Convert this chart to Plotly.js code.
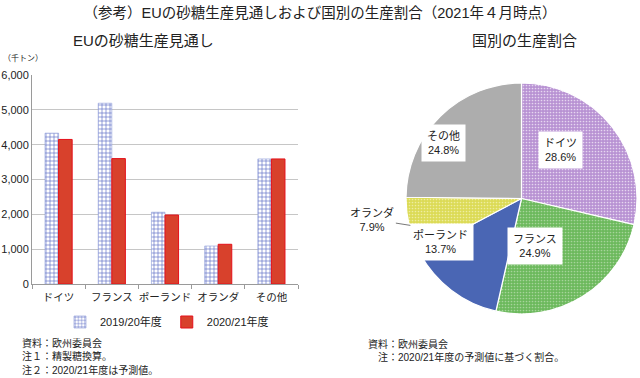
<!DOCTYPE html>
<html>
<head>
<meta charset="utf-8">
<script src="https://cdn.plot.ly/plotly-3.0.1.min.js"></script>
<style>
html,body{margin:0;padding:0;background:#fff;}
#chart{width:640px;height:378px;}
</style>
</head>
<body>
<div id="chart"></div>
<script>
// ---- data ----
const categories = ['ドイツ', 'フランス', 'ポーランド', 'オランダ', 'その他'];
const prod2019 = [4330, 5190, 2060, 1090, 3590];
const prod2020 = [4150, 3600, 1980, 1140, 3590];
const seriesNames = ['2019/20年度', '2020/21年度'];
const yTickVals = [0, 1000, 2000, 3000, 4000, 5000, 6000];
const pieLabels = ['ドイツ', 'フランス', 'ポーランド', 'オランダ', 'その他'];
const pieShares = [28.6, 24.9, 13.7, 7.9, 24.8];

// ---- layout helpers ----
const W = 640, H = 378;
const px = v => v / W;
const py = v => 1 - v / H;
const FONT = 'Liberation Sans, Arial, Noto Sans CJK JP, sans-serif';

const pieBox = {x0: 406, x1: 637, y0: 83, y1: 314};
const pieCx = (pieBox.x0 + pieBox.x1) / 2;
const pieCy = (pieBox.y0 + pieBox.y1) / 2;
const pieR = Math.min(pieBox.x1 - pieBox.x0, pieBox.y1 - pieBox.y0) / 2;

const barTrace1 = {
  type: 'bar', name: seriesNames[0], x: categories, y: prod2019,
  xaxis: 'x', yaxis: 'y',
  marker: {
    color: '#ffffff',
    line: {color: '#8a98d6', width: 0.6},
    pattern: {shape: '+', fgcolor: '#5a6cc4', bgcolor: '#ffffff', size: 4, solidity: 0.3, fillmode: 'replace'}
  },
  hoverinfo: 'skip'
};
const barTrace2 = {
  type: 'bar', name: seriesNames[1], x: categories, y: prod2020,
  xaxis: 'x', yaxis: 'y',
  marker: {color: '#d8412c', line: {color: '#e5101a', width: 1}},
  hoverinfo: 'skip'
};

const pieColors = ['#b892d3', '#6cb95c', '#4a66b4', '#dcdb55', '#adadad'];
const pieFg = ['#e6d6f0', '#a6d49a', '#4a66b4', '#eeeda0', '#adadad'];
const pieShapes = ['.', '.', '', '.', ''];
const pieTrace = {
  type: 'pie', labels: pieLabels, values: pieShares,
  sort: false, direction: 'clockwise', rotation: 0,
  textinfo: 'none', hoverinfo: 'skip', showlegend: false,
  domain: {x: [px(pieBox.x0), px(pieBox.x1)], y: [py(pieBox.y1), py(pieBox.y0)]},
  marker: {
    colors: pieColors,
    line: {color: '#ffffff', width: 1.2},
    pattern: {shape: pieShapes, fgcolor: pieFg, bgcolor: pieColors, size: 3, solidity: 0.25, fillmode: 'replace'}
  }
};

// pie label annotations derived from the data
const annotations = [];
const total = pieShares.reduce((a, b) => a + b, 0);
let cum = 0;
pieShares.forEach((v, i) => {
  const mid = (cum + v / 2) / total * 2 * Math.PI;
  cum += v;
  const sx = Math.sin(mid), sy = -Math.cos(mid);
  const txt = pieLabels[i] + '<br>' + v.toFixed(1) + '%';
  if (v / total < 0.1) {
    annotations.push({
      xref: 'paper', yref: 'paper',
      x: px(pieCx + sx * pieR * 0.99), y: py(pieCy + sy * pieR * 0.99),
      ax: -38, ay: -6, showarrow: true, arrowhead: 0, arrowwidth: 0.8, arrowcolor: '#555',
      text: txt, font: {family: FONT, size: 11, color: '#222'}, align: 'center'
    });
  } else {
    annotations.push({
      xref: 'paper', yref: 'paper',
      x: px(pieCx + sx * pieR * 0.68), y: py(pieCy + sy * pieR * 0.68),
      showarrow: false, text: txt, bgcolor: '#ffffff', borderpad: 5,
      font: {family: FONT, size: 11, color: '#222'}, align: 'center'
    });
  }
});

const textAnn = (text, x, y, size, xanchor) => ({
  xref: 'paper', yref: 'paper', x: px(x), y: py(y), xanchor: xanchor || 'left', yanchor: 'middle',
  showarrow: false, text: text, font: {family: FONT, size: size, color: '#222'}
});
annotations.push(textAnn('EUの砂糖生産見通し', 143, 40, 15, 'center'));
annotations.push(textAnn('国別の生産割合', 524, 40, 15, 'center'));
annotations.push(textAnn('（千トン）', 1, 58, 8));
annotations.push(textAnn('資料：欧州委員会', 20, 343, 10));
annotations.push(textAnn('注１：精製糖換算。', 20, 356, 10));
annotations.push(textAnn('注２：2020/21年度は予測値。', 20, 370, 10));
annotations.push(textAnn('資料：欧州委員会', 366, 344, 10));
annotations.push(textAnn('注：2020/21年度の予測値に基づく割合。', 376, 357, 10));

const layout = {
  width: W, height: H,
  margin: {l: 0, r: 0, t: 0, b: 0},
  paper_bgcolor: '#ffffff', plot_bgcolor: '#ffffff',
  font: {family: FONT, color: '#222'},
  title: {
    text: '（参考）EUの砂糖生産見通しおよび国別の生産割合（2021年４月時点）',
    x: 0.5, xanchor: 'center', y: py(13), yanchor: 'middle', yref: 'paper',
    font: {family: FONT, size: 14.5, color: '#222'}
  },
  barmode: 'group', bargap: 0.49, bargroupgap: 0,
  xaxis: {
    domain: [px(32), px(298)], type: 'category', automargin: false,
    showline: true, linecolor: '#9a9a9a', linewidth: 1,
    ticks: 'outside', tickson: 'boundaries', ticklen: 4, tickcolor: '#9a9a9a',
    ticklabelstandoff: 3,
    tickangle: 0, tickfont: {family: FONT, size: 10.5, color: '#222'}, showgrid: false, fixedrange: true
  },
  yaxis: {
    domain: [py(284), py(75)], range: [0, 6000], tickvals: yTickVals, tickformat: ',d',
    showline: true, linecolor: '#9a9a9a', linewidth: 1, automargin: false,
    showgrid: true, gridcolor: '#c6c6c6', gridwidth: 1, zeroline: false,
    ticks: '', tickfont: {family: FONT, size: 11, color: '#222'}, fixedrange: true
  },
  showlegend: true,
  legend: {
    orientation: 'h', x: px(167), xanchor: 'center', y: py(322), yanchor: 'middle',
    font: {family: FONT, size: 11, color: '#222'}, itemwidth: 30, traceorder: 'normal'
  },
  annotations: annotations
};

Plotly.newPlot('chart', [barTrace1, barTrace2, pieTrace], layout, {displayModeBar: false, staticPlot: true});
</script>
</body>
</html>
